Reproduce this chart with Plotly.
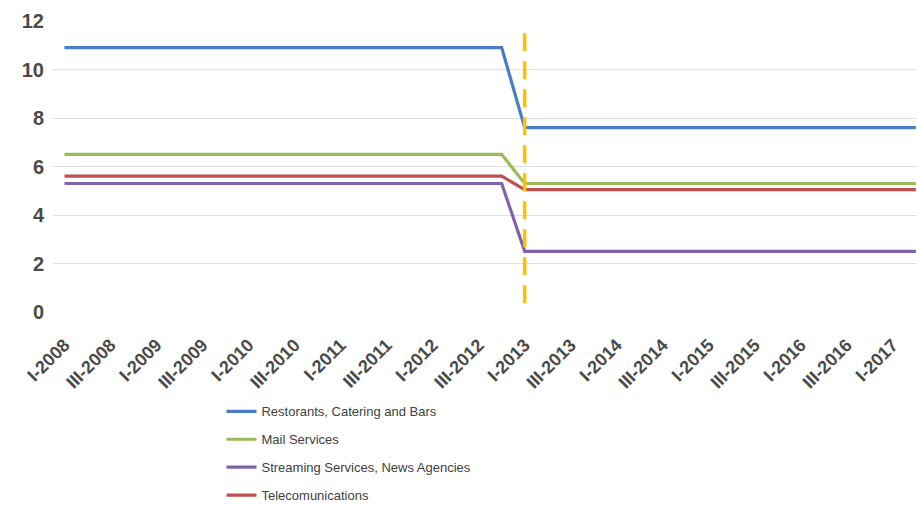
import plotly.graph_objects as go

# Quarterly periods, I-2008 through II-2017
roman = ["I", "II", "III", "IV"]
quarters = [f"{roman[q]}-{y}" for y in range(2008, 2018) for q in range(4)][:38]

# Rate per sector (percent); the change takes effect in I-2013
restaurants = [10.9] * 20 + [7.6] * 18
mail = [6.5] * 20 + [5.3] * 18
streaming = [5.3] * 20 + [2.5] * 18
telecom = [5.6] * 20 + [5.05] * 18

series_names = [
    "Restorants, Catering and Bars",
    "Mail Services",
    "Streaming Services, News Agencies",
    "Telecomunications",
]
series_values = [restaurants, mail, streaming, telecom]
series_colors = ["#4A7EC4", "#9BBB59", "#7F62A8", "#C0504D"]

change_quarter = "I-2013"
marker_top = 11.5

tick_quarters = quarters[0:37:2]
y_ticks = [0, 2, 4, 6, 8, 10, 12]

fig = go.Figure()
for i, (name, vals, col) in enumerate(zip(series_names, series_values, series_colors)):
    fig.add_trace(go.Scatter(
        x=quarters, y=vals, name=name, mode="lines",
        line=dict(color=col, width=3.2),
        legendgroup=f"g{i}",
    ))

# Dashed marker at the quarter where the new rates apply (drawn top-down)
fig.add_trace(go.Scatter(
    x=[change_quarter, change_quarter], y=[marker_top, 0],
    mode="lines", showlegend=False, hoverinfo="skip",
    line=dict(color="#FFC000", width=3.5, dash="18px,10px"),
))

fig.update_layout(
    width=917, height=506,
    margin=dict(l=53, r=0, t=21, b=194, autoexpand=False),
    paper_bgcolor="white", plot_bgcolor="white",
    font=dict(family="Liberation Sans, Arial, sans-serif", color="#505050"),
    showlegend=True,
    legend=dict(
        orientation="v", x=0.195, xanchor="left", y=-0.29, yanchor="top",
        font=dict(size=13, color="#404040"), tracegroupgap=8,
        bgcolor="rgba(0,0,0,0)",
    ),
    xaxis=dict(
        type="category", categoryorder="array", categoryarray=quarters,
        range=[-0.5, 37.05],
        tickmode="array", tickvals=tick_quarters, ticktext=tick_quarters,
        tickangle=-45, showgrid=False, showline=False, zeroline=False,
        ticks="", ticklabelstandoff=18,
        tickfont=dict(size=18, color="#4a4a4a", family="Liberation Sans, Arial, sans-serif", weight="bold"),
    ),
    yaxis=dict(
        range=[0, 12], tickvals=y_ticks, showgrid=True, gridcolor="#DDDDDD",
        gridwidth=1, zeroline=False, showline=False, ticks="",
        tickfont=dict(size=20, color="#4a4a4a", family="Liberation Sans, Arial, sans-serif", weight="bold"),
        ticklabelstandoff=8,
    ),
)

fig.write_html("out.html")
